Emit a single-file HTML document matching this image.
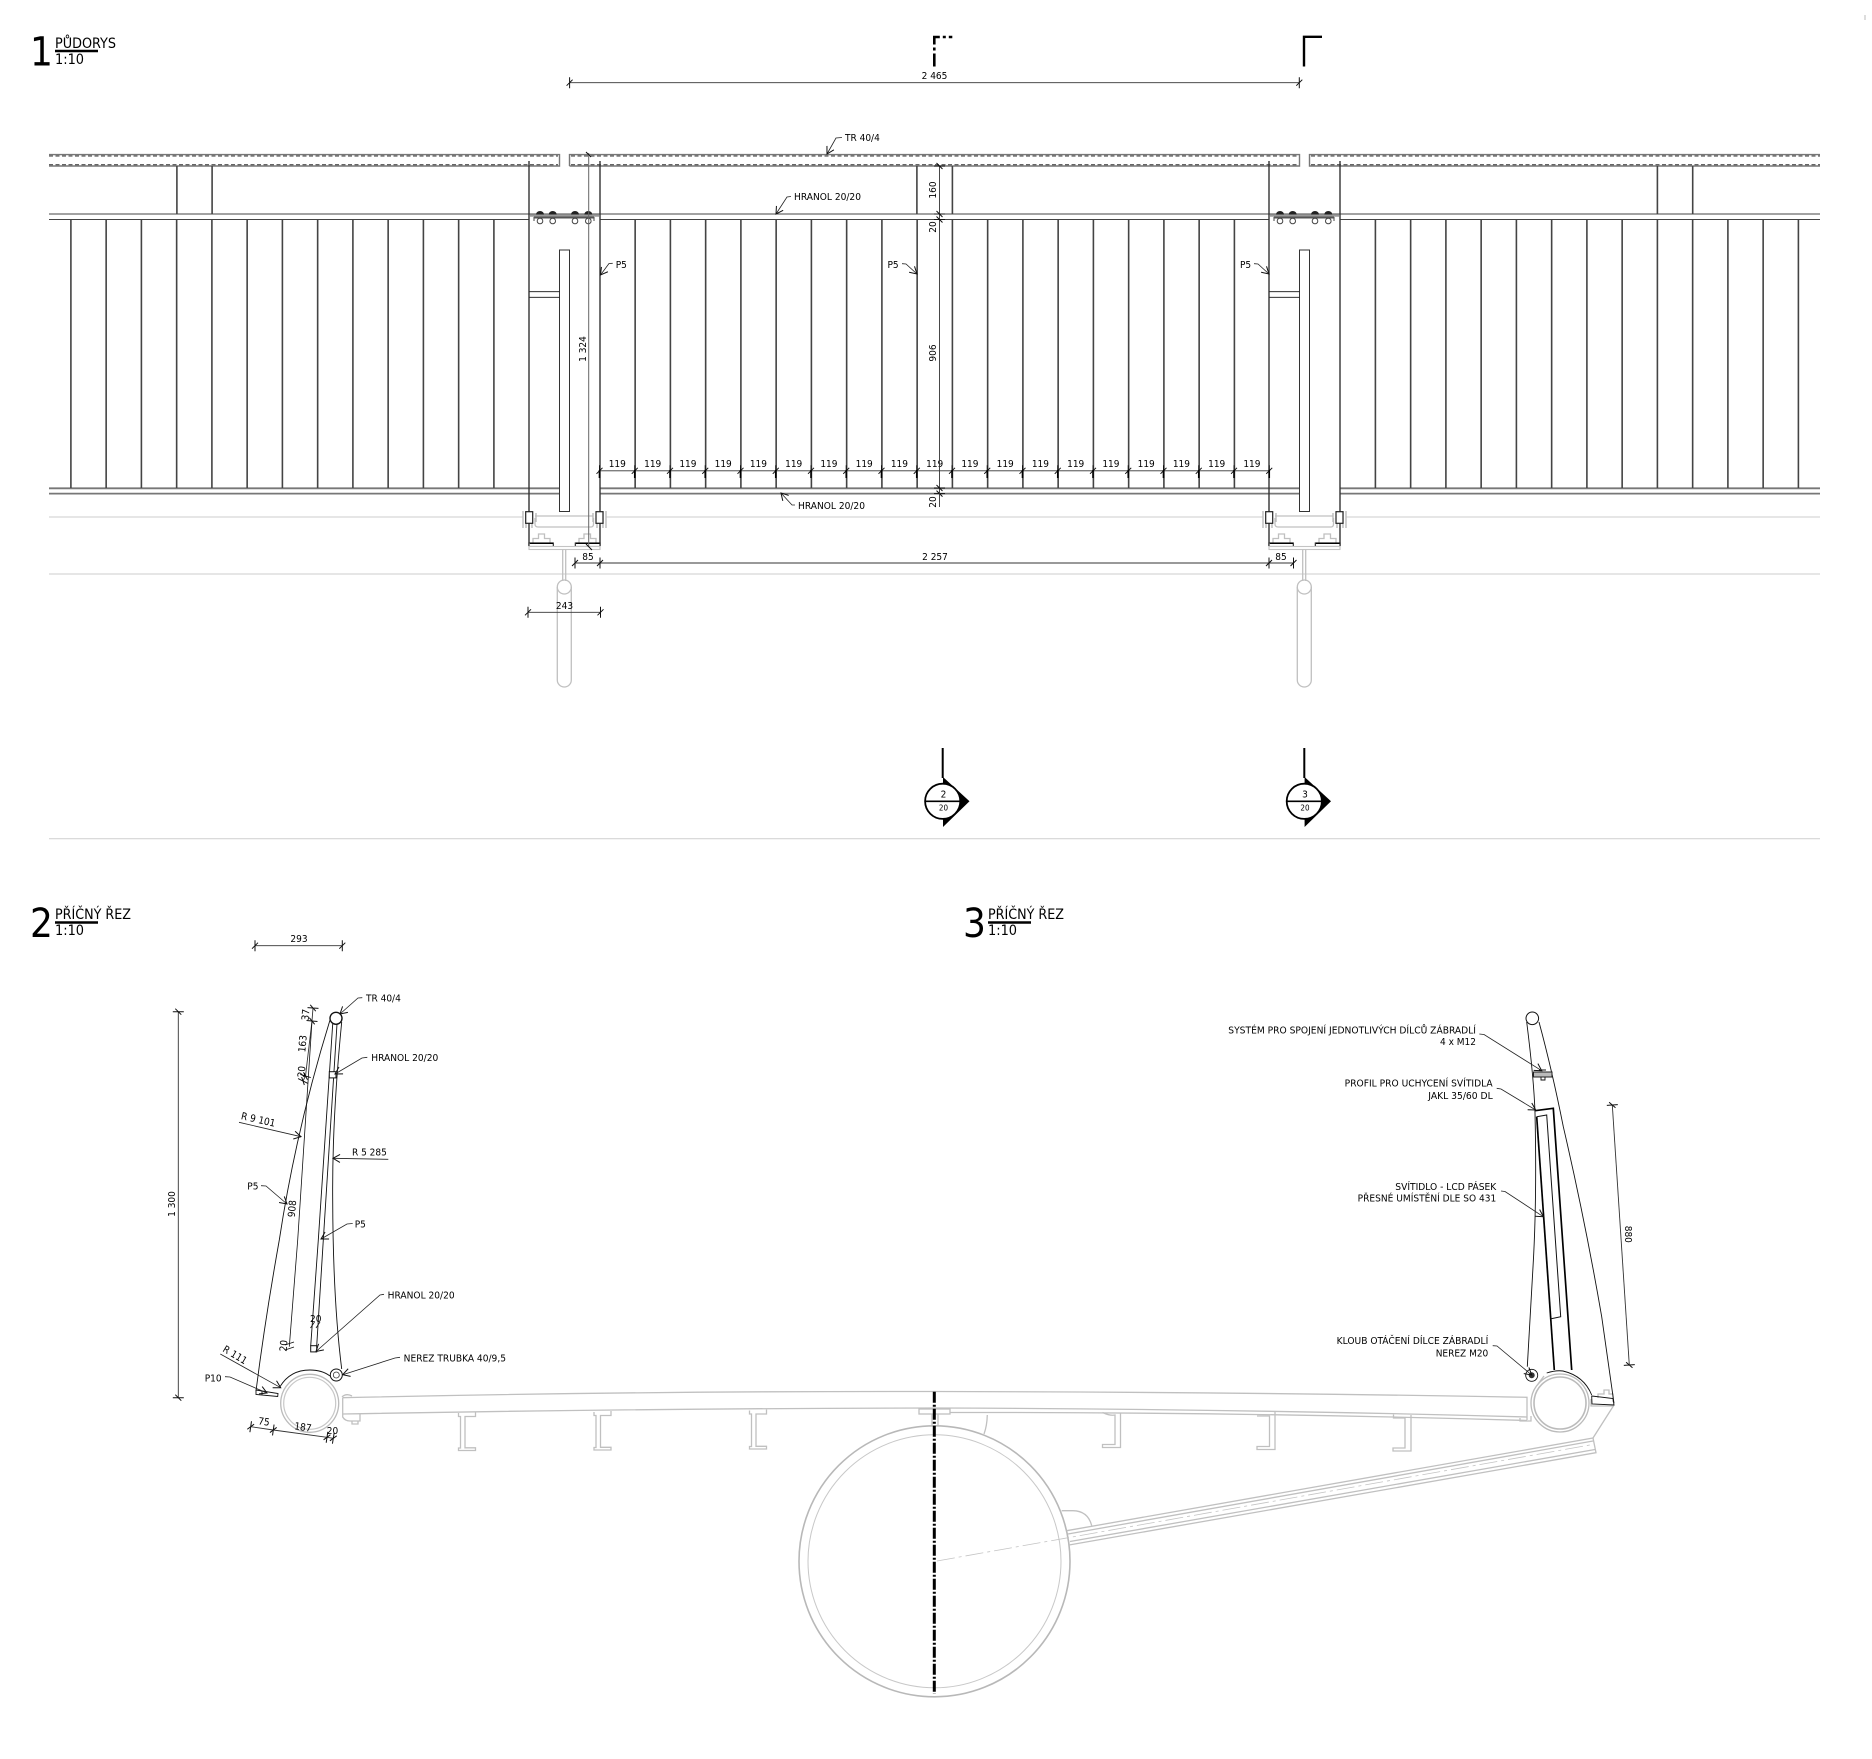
<!DOCTYPE html>
<html lang="cs">
<head>
<meta charset="utf-8">
<title>Půdorys a příčný řez</title>
<style>
html,body{margin:0;padding:0;background:#fff;}
svg{display:block;}
text{font-family:"DejaVu Sans Condensed","DejaVu Sans","Liberation Sans",sans-serif;font-stretch:condensed;font-size:10px;fill:#000;}
.m{text-anchor:middle;}
.big{font-size:40px;}
.ti{font-size:14px;}
.d{fill:none;stroke:#333;stroke-width:1.4;}
.b{fill:none;stroke:#111;stroke-width:.9;}
.g{fill:none;stroke:#c0c0c0;stroke-width:1.3;}
.gg{fill:none;stroke:#ddd;stroke-width:1.6;}
.l{fill:none;stroke:#111;stroke-width:.8;}
.dim{fill:none;stroke:#333;stroke-width:.9;marker-start:url(#t);marker-mid:url(#t);marker-end:url(#t);}
.ar{fill:none;stroke:#222;stroke-width:.8;marker-end:url(#a);}
</style>
</head>
<body>
<svg xmlns="http://www.w3.org/2000/svg" width="1872" height="1759" viewBox="0 0 1872 1759">
<defs>
<marker id="a" markerUnits="userSpaceOnUse" markerWidth="12" markerHeight="12" refX="8" refY="4" orient="auto" overflow="visible"><path d="M1 0L8 4L1 8" fill="none" stroke="#111" stroke-width="1"/></marker>
<marker id="t" markerUnits="userSpaceOnUse" markerWidth="14" markerHeight="14" refX="0" refY="0" orient="auto" overflow="visible"><path d="M-3 3L3 -3M0 -5.5V5.5" fill="none" stroke="#111" stroke-width="1"/></marker>
<g id="post">
 <path class="d" d="M529 161V546M600 161V546"/>
 <rect x="559.5" y="250" width="10" height="261.5" fill="#fff" stroke="#333" stroke-width="1"/>
 <path class="b" d="M529.5 291.7H559.5M529.5 297.3H559.5"/>
 <path d="M530 215.5H599" stroke="#999" stroke-width="2.5" fill="none"/>
 <path d="M534 221V217.5H594V221" stroke="#444" stroke-width="1" fill="none"/>
 <path d="M534 217.5H594" stroke="#555" stroke-width="2" fill="none"/>
 <path d="M536 214.5a4 3.5 0 0 1 8 0zM548.7 214.5a4 3.5 0 0 1 8 0zM571 214.5a4 3.5 0 0 1 8 0zM584.3 214.5a4 3.5 0 0 1 8 0z" fill="#222"/>
 <circle cx="540" cy="221" r="2.8" fill="#fff" stroke="#444" stroke-width="1"/><circle cx="552.7" cy="221" r="2.8" fill="#fff" stroke="#444" stroke-width="1"/><circle cx="575" cy="221" r="2.8" fill="#fff" stroke="#444" stroke-width="1"/><circle cx="588.3" cy="221" r="2.8" fill="#fff" stroke="#444" stroke-width="1"/>
 <!-- bottom -->
 <path class="g" d="M535 516H593.5M535 518V524Q535 527 538 527H591Q593.5 527 593.5 524V518"/>
 <path d="M523 511V528M526 511V528M532 511V528M536 513V522M593 513V522M597 511V528M603 511V528M606 511V528" stroke="#bbb" stroke-width="1.4" fill="none"/>
 <rect x="525.7" y="511.7" width="7" height="11.6" fill="#fff" stroke="#222" stroke-width="1.2"/>
 <rect x="596" y="511.7" width="7" height="11.6" fill="#fff" stroke="#222" stroke-width="1.2"/>
 <path class="g" d="M533 542.5V538.5H538.5V534H544.5V538.5H550V542.5M579 542.5V538.5H584V534H590.5V538.5H596V542.5"/>
 <rect x="529" y="543" width="24.3" height="3.5" fill="#fff" stroke="#222" stroke-width="1.1"/>
 <rect x="575.3" y="543" width="24.7" height="3.5" fill="#fff" stroke="#222" stroke-width="1.1"/>
 <path d="M530 543.2H553M576 543.2H599.5" stroke="#000" stroke-width="1.5" fill="none"/>
 <rect x="529" y="546.5" width="71" height="3" fill="#fff" stroke="#c4c4c4" stroke-width="1.1"/>
 <path class="g" d="M562.7 549.5V581M565.7 549.5V581"/>
 <path class="g" d="M557.3 587V680a7 7 0 0 0 14 0V587"/>
 <circle class="g" cx="564.3" cy="587" r="7" fill="#fff"/>
</g>
</defs>
<rect width="1872" height="1759" fill="#fff"/>

<!-- Titles -->
<text class="big" x="30" y="65.5">1</text>
<text class="ti" x="55" y="48" textLength="61" lengthAdjust="spacingAndGlyphs">PŮDORYS</text>
<path d="M55 51H98" stroke="#000" stroke-width="2.4"/>
<text class="ti" x="55" y="64" textLength="29" lengthAdjust="spacingAndGlyphs">1:10</text>
<text class="big" x="30" y="937">2</text>
<text class="ti" x="55" y="919" textLength="76" lengthAdjust="spacingAndGlyphs">PŘÍČNÝ ŘEZ</text>
<path d="M55 922.5H98" stroke="#000" stroke-width="2.4"/>
<text class="ti" x="55" y="935" textLength="29" lengthAdjust="spacingAndGlyphs">1:10</text>
<text class="big" x="963" y="937">3</text>
<text class="ti" x="988" y="919" textLength="76" lengthAdjust="spacingAndGlyphs">PŘÍČNÝ ŘEZ</text>
<path d="M988 922.5H1031" stroke="#000" stroke-width="2.4"/>
<text class="ti" x="988" y="935" textLength="29" lengthAdjust="spacingAndGlyphs">1:10</text>
<path d="M1865 15V20" stroke="#bbb" stroke-width="1"/>

<!-- Section markers top -->
<path d="M934.3 66.5V37H952.3" fill="none" stroke="#000" stroke-width="2.6" stroke-dasharray="13 3 3 3"/>
<path d="M1304 66.5V36.8H1322" fill="none" stroke="#000" stroke-width="2.4"/>

<!-- Dim 2465 -->
<polyline class="dim" points="569.6,82.7 1299.3,82.7"/>
<text class="m" x="934.5" y="79">2 465</text>

<!-- Rail -->
<g fill="none">
 <path d="M49 154.6H559.5V166H49M1820 154.6H1309.5V166H1820M569.5 166V154.6H1299.5V166H569.5" stroke="#777" stroke-width="1.4"/>
 <path d="M49 156H558M571 156H1298M1311 156H1820M49 164.8H558M571 164.8H1298M1311 164.8H1820" stroke="#333" stroke-width="1" stroke-dasharray="4 2.5"/>
</g>

<!-- Hranol + bottom lines -->
<path d="M49 214H1820" stroke="#444" stroke-width="1" fill="none"/>
<path d="M49 219.5H529M600 219.5H1269M1340 219.5H1820" stroke="#444" stroke-width="1" fill="none"/>
<path d="M49 488.3H559.5M600 488.3H1299.5M1340 488.3H1820M49 493.6H559.5M600 493.6H1299.5M1340 493.6H1820" stroke="#777" stroke-width="1.8" fill="none"/>
<path class="gg" d="M49 517H523M606 517H1263M1346 517H1820M49 574H1820"/>
<path d="M49 838.7H1820" stroke="#d4d4d4" stroke-width="1.1"/>

<!-- Balusters -->
<path d="M70.5 219.5V488M105.75 219.5V488M141 219.5V488M176.25 219.5V488M211.5 219.5V488M246.75 219.5V488M282 219.5V488M317.25 219.5V488M352.5 219.5V488M387.75 219.5V488M423 219.5V488M458.25 219.5V488M493.5 219.5V488
M634.75 219.5V488M670 219.5V488M705.25 219.5V488M740.5 219.5V488M775.75 219.5V488M811 219.5V488M846.25 219.5V488M881.5 219.5V488M916.75 219.5V488M952 219.5V488M987.25 219.5V488M1022.5 219.5V488M1057.75 219.5V488M1093 219.5V488M1128.25 219.5V488M1163.5 219.5V488M1198.75 219.5V488M1234 219.5V488
M1375 219.5V488M1410.25 219.5V488M1445.5 219.5V488M1480.75 219.5V488M1516 219.5V488M1551.25 219.5V488M1586.5 219.5V488M1621.75 219.5V488M1657 219.5V488M1692.25 219.5V488M1727.5 219.5V488M1762.75 219.5V488M1798 219.5V488
M176.5 166V214M211.7 166V214M916.5 166V214M952 166V214M1657 166V214M1692.3 166V214" fill="none" stroke="#444" stroke-width="1.6" transform="translate(.4,0)"/>

<!-- Posts -->
<use href="#post"/>
<use href="#post" transform="translate(740,0)"/>

<!-- thin extension -->
<path d="M588.7 153V546" stroke="#666" stroke-width="1" fill="none"/>
<path d="M586 152L591 157M586 544L592 550" stroke="#111" stroke-width="1" fill="none"/>

<!-- Dim 119 -->
<polyline class="dim" points="599.5,470.8 634.75,470.8 670,470.8 705.25,470.8 740.5,470.8 775.75,470.8 811,470.8 846.25,470.8 881.5,470.8 916.75,470.8 952,470.8 987.25,470.8 1022.5,470.8 1057.75,470.8 1093,470.8 1128.25,470.8 1163.5,470.8 1198.75,470.8 1234,470.8 1269.25,470.8"/>
<path d="M599.5 470V478M634.75 470V478M670 470V478M705.25 470V478M740.5 470V478M775.75 470V478M811 470V478M846.25 470V478M881.5 470V478M916.75 470V478M952 470V478M987.25 470V478M1022.5 470V478M1057.75 470V478M1093 470V478M1128.25 470V478M1163.5 470V478M1198.75 470V478M1234 470V478M1269.25 470V478" stroke="#000" stroke-width="1.6"/>
<g>
<text class="m" x="617.3" y="467">119</text><text class="m" x="652.7" y="467">119</text><text class="m" x="687.9" y="467">119</text><text class="m" x="723.2" y="467">119</text><text class="m" x="758.4" y="467">119</text><text class="m" x="793.7" y="467">119</text><text class="m" x="828.9" y="467">119</text><text class="m" x="864.2" y="467">119</text><text class="m" x="899.4" y="467">119</text><text class="m" x="934.7" y="467">119</text><text class="m" x="969.9" y="467">119</text><text class="m" x="1005.2" y="467">119</text><text class="m" x="1040.4" y="467">119</text><text class="m" x="1075.7" y="467">119</text><text class="m" x="1110.9" y="467">119</text><text class="m" x="1146.2" y="467">119</text><text class="m" x="1181.4" y="467">119</text><text class="m" x="1216.7" y="467">119</text><text class="m" x="1251.9" y="467">119</text>
</g>

<!-- Dim 85 / 2257 / 243 -->
<polyline class="dim" points="575,563 600,563 1269,563 1293.5,563"/>
<text class="m" x="588" y="560">85</text><text class="m" x="1281" y="560">85</text><text class="m" x="935" y="560">2 257</text>
<polyline class="dim" points="528,612.3 600.5,612.3"/>
<text class="m" x="564.5" y="609">243</text>

<!-- Central vertical dims -->
<polyline class="dim" points="939.5,166 939.5,214 939.5,219.5 939.5,488 939.5,493.6"/>
<path d="M939.5 493V507" stroke="#333" stroke-width=".9"/>
<text class="m" transform="translate(936,190) rotate(-90)">160</text>
<text class="m" transform="translate(936,227) rotate(-90)">20</text>
<text class="m" transform="translate(936,353) rotate(-90)">906</text>
<text class="m" transform="translate(936,502) rotate(-90)">20</text>
<text class="m" transform="translate(586,349) rotate(-90)">1 324</text>

<!-- Plan labels -->
<text x="845" y="141">TR 40/4</text>
<polyline class="ar" points="842,137.5 836,138 827,154"/>
<text x="794" y="200" textLength="67" lengthAdjust="spacingAndGlyphs">HRANOL 20/20</text>
<polyline class="ar" points="791,196.5 787,197 776,214"/>
<text x="798" y="509" textLength="67" lengthAdjust="spacingAndGlyphs">HRANOL 20/20</text>
<polyline class="ar" points="795,505 792,505 781,493"/>
<text x="615.7" y="268">P5</text>
<polyline class="ar" points="612.7,263.3 609,263.5 600.5,275"/>
<text x="887.5" y="268">P5</text>
<polyline class="ar" points="902,263.7 906,264 917,274"/>
<text x="1240" y="268">P5</text>
<polyline class="ar" points="1254,263.7 1258,264 1269,274"/>

<!-- Section symbols -->
<g>
 <path d="M942.7 748V778" stroke="#000" stroke-width="2" fill="none"/>
 <path d="M943 777L969.5 801.3L943 827Z" fill="#000"/>
 <circle cx="942.7" cy="801.3" r="17.6" fill="#fff" stroke="#000" stroke-width="1.8"/>
 <path d="M925 801.3H960" stroke="#000" stroke-width="1.6"/>
 <text class="m" x="943.5" y="797.3">2</text>
 <text class="m" x="943.5" y="810.5" style="font-size:8px">20</text>
 <path d="M1304.3 748V778" stroke="#000" stroke-width="2" fill="none"/>
 <path d="M1304.6 777L1331 801.3L1304.6 827Z" fill="#000"/>
 <circle cx="1304.3" cy="801.3" r="17.6" fill="#fff" stroke="#000" stroke-width="1.8"/>
 <path d="M1286.5 801.3H1322" stroke="#000" stroke-width="1.6"/>
 <text class="m" x="1305" y="797.3">3</text>
 <text class="m" x="1305" y="810.5" style="font-size:8px">20</text>
</g>

<!-- === SECTION gray structure === -->
<g>
 <path class="g" d="M342.7 1397.7Q640 1391 934 1391.5Q1240 1392 1527 1397.3V1420"/>
 <path class="g" d="M342.7 1414Q640 1408.5 934 1408Q1240 1409 1527 1417"/>
 <path class="g" d="M950 1412.5Q1240 1412 1527 1420.5"/>
 <path class="g" d="M342.7 1397.7V1414M342.7 1414V1417Q345 1421 350 1421H360V1414M352 1421V1424H358V1421M342 1397Q346 1393 352 1396"/>
 <!-- Z profiles left -->
 <path class="g" d="M458.5 1413V1416.5H460.5V1448H458.5V1450.5H475.5V1447.8H465V1416.5H475.5V1412"/>
 <path class="g" d="M594 1412V1415.5H596V1447.5H594V1450H611V1447.3H600.5V1415.5H611V1411"/>
 <path class="g" d="M749.5 1410.5V1414H751.5V1446.5H749.5V1449H766.5V1446.3H756V1414H766.5V1409.5"/>
 <!-- Z profiles right -->
 <path class="g" d="M1102.5 1412.5Q1110 1416 1115 1415V1444.5H1102.5V1447.5H1120.5V1413"/>
 <path class="g" d="M1275 1412V1449.5H1257V1446.5H1269.5V1416H1257"/>
 <path class="g" d="M1411 1415V1451H1393V1448H1405V1418H1393.5V1414.5"/>
 <!-- centre plate -->
 <rect class="g" x="919" y="1409" width="31" height="5"/>
 <path class="g" d="M932 1414V1426M938 1414V1426"/>
 <path class="g" stroke-width=".8" d="M987.3 1415Q987 1426 984 1434M1061.7 1510.7H1073Q1088 1511 1091.7 1525.7"/>
 <!-- big circle -->
 <circle cx="934.5" cy="1561.3" r="135.5" fill="none" stroke="#b8b8b8" stroke-width="1.6"/>
 <circle cx="934.5" cy="1561.3" r="126.5" fill="none" stroke="#c8c8c8" stroke-width="1"/>
 <!-- arm -->
 <path class="g" d="M1066.7 1530.7L1593 1438L1596 1452.7L1069 1545"/>
 <path class="g" stroke-width=".8" d="M1068 1534L1593 1441M1070 1541.5L1595 1449.5"/>
 <path fill="none" stroke="#c4c4c4" stroke-width=".8" stroke-dasharray="18 4 3 4" d="M937 1561L1590 1445"/>
 <path class="g" stroke-width=".8" d="M1593 1438L1614 1405"/>
 <!-- left tube -->
 <circle cx="309.7" cy="1403.3" r="29" fill="#fff" stroke="#bbb" stroke-width="1.3"/>
 <circle cx="309.7" cy="1403.3" r="26" fill="none" stroke="#c8c8c8" stroke-width="1.2"/>
 <!-- right tube -->
 <circle cx="1560" cy="1403" r="29" fill="#fff" stroke="#bbb" stroke-width="1.3"/>
 <circle cx="1560" cy="1403" r="26" fill="none" stroke="#bbb" stroke-width="1.6"/>
 <path class="g" d="M1520 1418V1421H1531V1416"/>
 <path class="g" stroke-width=".8" d="M1591 1399V1406H1614M1598 1398V1394H1604V1390H1609V1394H1613V1402"/>
 <path class="g" d="M1538 1384L1544 1376"/>
</g>

<!-- Center axis -->
<path d="M934.3 1391.7V1694" stroke="#000" stroke-width="3" fill="none" stroke-dasharray="11 2 2 2"/>

<!-- === SECTION 2 black === -->
<polyline class="dim" points="255,945.7 342.3,945.7"/>
<text class="m" x="299" y="942">293</text>
<polyline class="dim" points="178.3,1011.7 178.3,1397.7"/>
<text class="m" transform="translate(175,1204) rotate(-90)">1 300</text>

<circle cx="336" cy="1018.3" r="6" fill="#fff" stroke="#111" stroke-width="1.4"/>
<path class="b" d="M330 1020Q296 1130 279.3 1240Q265 1320 256 1391"/>
<path class="b" d="M341.7 1022Q332 1120 332.7 1200Q333 1300 341.7 1369"/>
<path class="b" d="M332.7 1024L318.3 1240L310.7 1346M337 1024L323.3 1240L316.7 1346"/>
<rect x="329.3" y="1071.7" width="6.7" height="6.2" fill="#fff" stroke="#111" stroke-width="1"/>
<rect x="310.7" y="1345.7" width="6" height="6.2" fill="#fff" stroke="#111" stroke-width="1"/>
<polyline class="dim" points="313,1008 312,1021 305.5,1076 303,1081"/>
<path class="l" d="M312 1021L297.7 1240L289.3 1346.7"/>
<path d="M285 1345l9 -3M285 1350l9 -3" stroke="#111" stroke-width=".8"/>
<text class="m" transform="translate(309,1015) rotate(-85)">37</text>
<text class="m" transform="translate(306,1044) rotate(-85)">163</text>
<text class="m" transform="translate(305,1072) rotate(-85)">20</text>
<text class="m" transform="translate(295.5,1209) rotate(-85)">908</text>
<text class="m" transform="translate(287,1346) rotate(-85)">20</text>
<text class="m" x="315.7" y="1322">20</text>
<path d="M310.5 1328l4 -6M316 1328l4 -6" stroke="#111" stroke-width=".8"/>

<text transform="translate(240.5,1119) rotate(13)">R 9 101</text>
<path class="ar" d="M239 1122.3L301 1136.7"/>
<text x="352" y="1155.7">R 5 285</text>
<path class="ar" d="M388.3 1159.3L333 1158.3"/>
<text x="366" y="1001.7">TR 40/4</text>
<polyline class="ar" points="362.3,997.7 358,998 340,1014"/>
<text x="371.3" y="1061" textLength="67" lengthAdjust="spacingAndGlyphs">HRANOL 20/20</text>
<polyline class="ar" points="367.3,1057.3 362,1058 335,1074"/>
<text x="247.3" y="1189.3">P5</text>
<polyline class="ar" points="261,1185.7 266,1186 287,1204"/>
<text x="354.7" y="1227.3">P5</text>
<polyline class="ar" points="352.7,1223.5 347,1224 321,1239"/>
<text x="387.7" y="1298.3" textLength="67" lengthAdjust="spacingAndGlyphs">HRANOL 20/20</text>
<polyline class="ar" points="384,1294.3 380,1295 316,1351.5"/>
<text x="403.7" y="1361.3" textLength="102.3" lengthAdjust="spacingAndGlyphs">NEREZ TRUBKA 40/9,5</text>
<polyline class="ar" points="400,1357.3 395,1358 342.7,1374.7"/>
<circle cx="336.3" cy="1375" r="6" fill="#fff" stroke="#111" stroke-width="1"/>
<circle cx="336.3" cy="1375" r="3" fill="#fff" stroke="#333" stroke-width=".8"/>
<path class="b" d="M280 1386.7Q290 1370 310 1370Q322 1370 330 1376"/>
<path class="b" d="M256 1390L278 1393.5L277.7 1396.5L256 1394.5Z"/>
<path class="b" d="M262 1391V1395"/>
<text transform="translate(222,1351) rotate(31)">R 111</text>
<path class="ar" d="M220.3 1354L280.7 1387.7"/>
<text x="204.7" y="1381.7">P10</text>
<polyline class="ar" points="225,1376.7 230,1377 267,1393"/>
<polyline class="dim" points="250.7,1426.7 273.3,1430 327,1437.3 333.3,1438.3"/>
<text class="m" transform="translate(263.5,1425) rotate(8)">75</text>
<text class="m" transform="translate(302.5,1430.5) rotate(8)">187</text>
<text class="m" x="332.5" y="1434">20</text>

<!-- === SECTION 3 black === -->
<circle cx="1532.3" cy="1018.3" r="6.3" fill="#fff" stroke="#111" stroke-width="1"/>
<path class="b" d="M1526.7 1022Q1534 1080 1535 1113Q1537 1200 1533 1267L1527.3 1366.7"/>
<path class="b" d="M1539 1022Q1552 1070 1563.3 1126.7Q1585 1220 1601.7 1316.7L1614 1403.3"/>
<path d="M1535 1110.7L1553.3 1108.3L1571.7 1370" fill="none" stroke="#000" stroke-width="1.7"/>
<path d="M1536.7 1116.7L1554.3 1370" fill="none" stroke="#000" stroke-width="1.7"/>
<path d="M1536.7 1116.7L1546.7 1115L1560.7 1316.7L1550 1319" fill="none" stroke="#111" stroke-width="1"/>
<path d="M1533.5 1072H1552V1077H1533.5Z" fill="#bbb" stroke="#222" stroke-width="1"/>
<path d="M1539 1070H1546M1541 1077V1080H1545V1077" fill="none" stroke="#111" stroke-width=".9"/>
<circle cx="1531.7" cy="1375.3" r="6" fill="#fff" stroke="#111" stroke-width=".9"/>
<circle cx="1531.7" cy="1375.3" r="3" fill="#333"/>
<path class="b" d="M1546.7 1373Q1556 1370 1563 1371Q1584 1376 1591.7 1395"/>
<path class="b" d="M1591.7 1396L1613 1398.5L1614 1405L1592 1404Z"/>
<text x="1228.3" y="1033.3" textLength="247.7" lengthAdjust="spacingAndGlyphs">SYSTÉM PRO SPOJENÍ JEDNOTLIVÝCH DÍLCŮ ZÁBRADLÍ</text>
<text x="1440" y="1045" textLength="36" lengthAdjust="spacingAndGlyphs">4 x M12</text>
<polyline class="ar" points="1479.3,1034 1484,1034.5 1541.7,1070.7"/>
<text x="1344.7" y="1086.7" textLength="148" lengthAdjust="spacingAndGlyphs">PROFIL PRO UCHYCENÍ SVÍTIDLA</text>
<text x="1428.3" y="1099" textLength="64.4" lengthAdjust="spacingAndGlyphs">JAKL 35/60 DL</text>
<polyline class="ar" points="1496.7,1088.3 1501,1089 1535.7,1110"/>
<text x="1395.3" y="1190" textLength="101" lengthAdjust="spacingAndGlyphs">SVÍTIDLO - LCD PÁSEK</text>
<text x="1357.7" y="1201.7" textLength="138.6" lengthAdjust="spacingAndGlyphs">PŘESNÉ UMÍSTĚNÍ DLE SO 431</text>
<polyline class="ar" points="1501,1191 1505,1191.5 1543.3,1216.7"/>
<text x="1336.7" y="1344" textLength="151.6" lengthAdjust="spacingAndGlyphs">KLOUB OTÁČENÍ DÍLCE ZÁBRADLÍ</text>
<text x="1435.7" y="1356.7" textLength="52.6" lengthAdjust="spacingAndGlyphs">NEREZ M20</text>
<polyline class="ar" points="1492.7,1345.7 1497,1346 1531.7,1375"/>
<polyline class="dim" points="1612.3,1105 1629.3,1365"/>
<text class="m" transform="translate(1625,1234.3) rotate(90)">880</text>
</svg>
</body>
</html>
